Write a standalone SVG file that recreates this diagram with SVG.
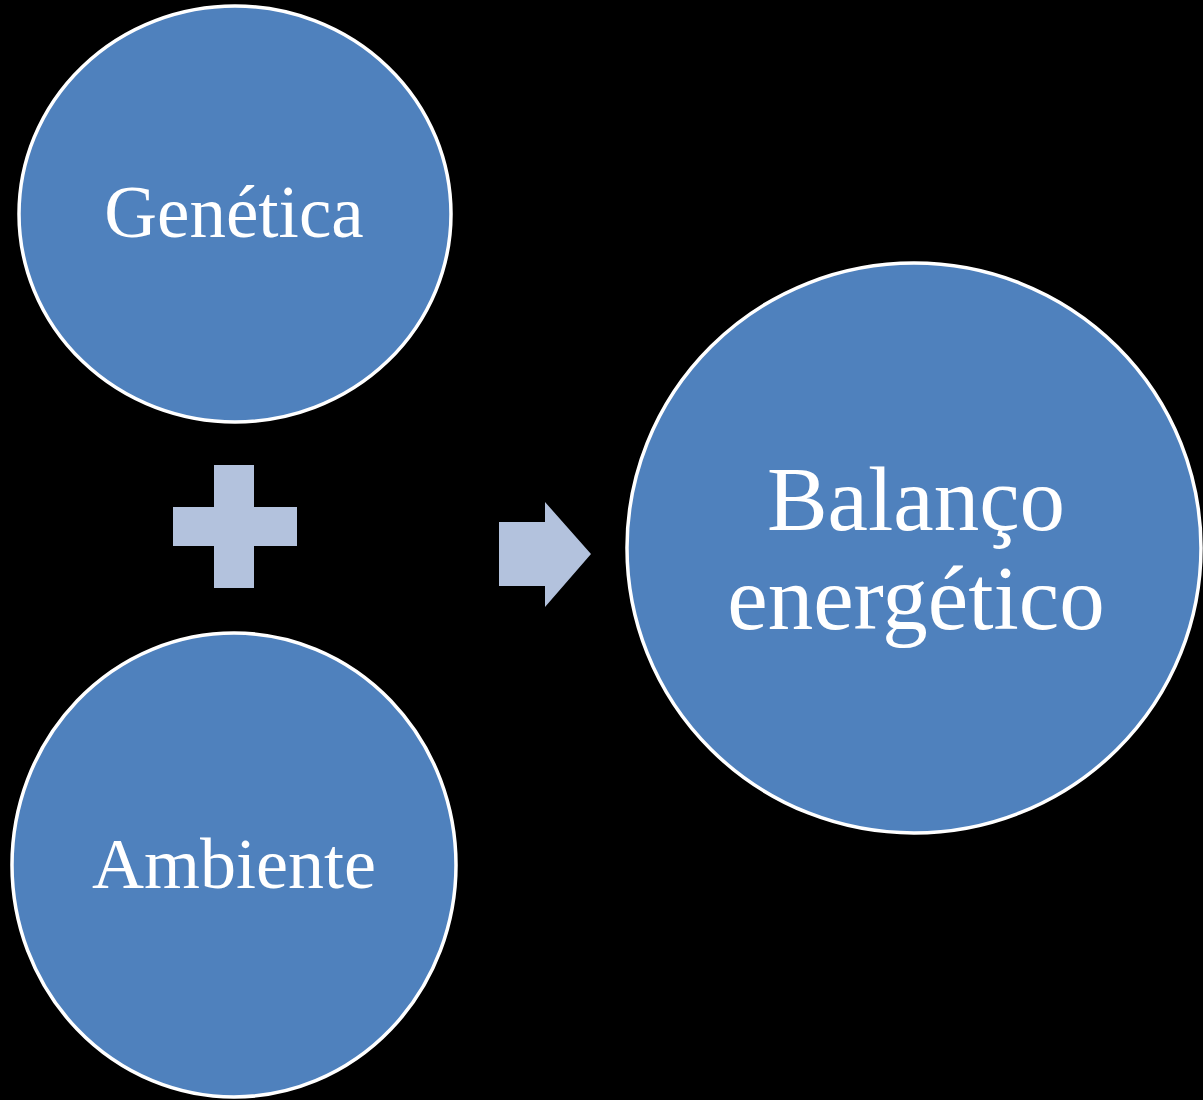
<svg xmlns="http://www.w3.org/2000/svg" width="1203" height="1100" viewBox="0 0 1203 1100">
<style>
.node{fill:#4f81bd;stroke:#ffffff;stroke-width:3.5}
.lbl{fill:#ffffff;font-family:"Liberation Serif","Times New Roman",serif;text-anchor:middle}
.sym{fill:#b3c2dd}
</style>
<rect width="1203" height="1100" fill="#000000"/>
<g id="genetica">
<ellipse class="node" cx="235" cy="214" rx="216" ry="208"/>
<text class="lbl" x="234" y="237" font-size="73">Genética</text>
</g>
<g id="ambiente">
<ellipse class="node" cx="234" cy="865" rx="222" ry="232"/>
<text class="lbl" x="234" y="888" font-size="72">Ambiente</text>
</g>
<g id="balanco">
<ellipse class="node" cx="914" cy="548" rx="287" ry="285"/>
<text class="lbl" font-size="91"><tspan x="916" y="530">Balanço</tspan><tspan x="916" y="629">energético</tspan></text>
</g>
<g id="connectors">
<path id="plus" class="sym" d="M214,465 H254 V507 H297 V546 H254 V588 H214 V546 H173 V507 H214 Z"/>
<path id="arrow" class="sym" d="M499,522 H545 V502 L591,554 L545,607 V586 H499 Z"/>
</g>
</svg>
